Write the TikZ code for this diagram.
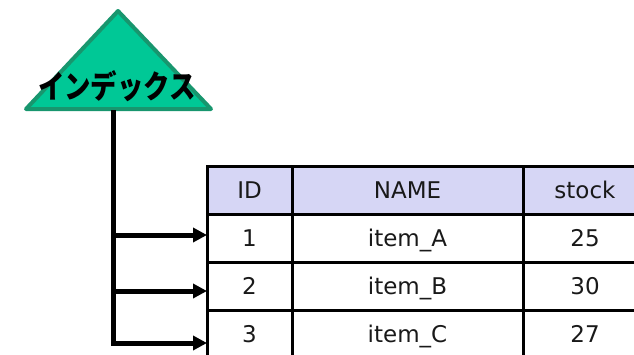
\documentclass[tikz,border=0pt]{standalone}
\usepackage{fontspec}
\setmainfont{DejaVu Sans}
\newfontfamily\jp{Noto Sans CJK JP}
\usetikzlibrary{arrows.meta}
\definecolor{trifill}{RGB}{0,200,150}
\definecolor{triedge}{RGB}{24,150,110}
\definecolor{hdr}{RGB}{214,214,245}
\tikzset{
  cell/.style={draw=black, line width=3pt, inner sep=0pt, minimum height=48pt, text height=17pt, text depth=0pt, font=\fontsize{23}{26}\selectfont, text=black!90},
  c1/.style={cell, minimum width=85pt},
  c2/.style={cell, minimum width=231pt},
  c3/.style={cell, minimum width=124pt},
  head/.style={fill=hdr},
  conn/.style={line width=5pt, miter limit=10, -{Triangle[length=14pt,width=14pt]}},
}
\begin{document}
\begin{tikzpicture}[x=1pt,y=-1pt]
\useasboundingbox (0,0) rectangle (634,354);
\clip (0,0) rectangle (634,354);
% triangle
\draw[fill=trifill, draw=triedge, line width=4pt, line join=round] (118,11) -- (211,109) -- (26,109) -- cycle;
\node[font=\jp\bfseries\fontsize{27}{30}\selectfont, inner sep=0pt] (idx) at (117,86) {\scalebox{0.98}[1.18]{インデックス}};
% table
\node[c1,head] (h1) at (249.5,190) {ID};
\node[c2,head] (h2) at (407.5,190) {NAME};
\node[c3,head] (h3) at (585,190) {stock};
\node[c1] (r11) at (249.5,238) {1};
\node[c2] (r12) at (407.5,238) {item\_A};
\node[c3] (r13) at (585,238) {25};
\node[c1] (r21) at (249.5,286) {2};
\node[c2] (r22) at (407.5,286) {item\_B};
\node[c3] (r23) at (585,286) {30};
\node[c1] (r31) at (249.5,334) {3};
\node[c2] (r32) at (407.5,334) {item\_C};
\node[c3] (r33) at (585,334) {27};
% connectors
\coordinate (trunk) at (113,110);
\coordinate (t1) at (207,235);
\coordinate (t2) at (207,291);
\coordinate (t3) at (207,343);
\draw[conn] (trunk) |- (t3);
\draw[conn] (trunk) |- (t2);
\draw[conn] (trunk) |- (t1);
\end{tikzpicture}
\end{document}
